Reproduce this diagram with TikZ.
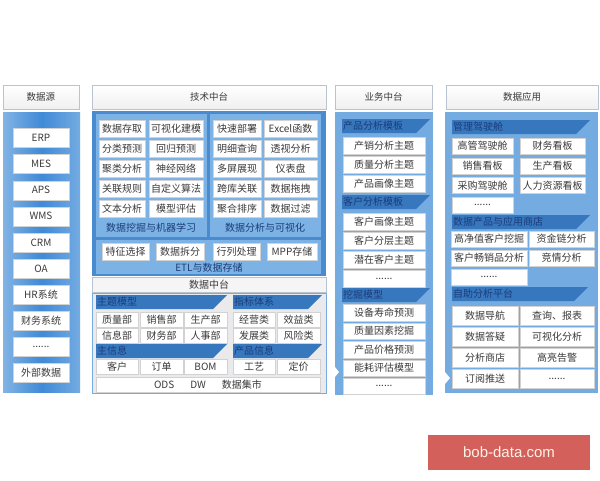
\documentclass[tikz,border=0pt]{standalone}
\usepackage{fontspec}
\setmainfont{Noto Sans CJK SC}
\newfontfamily\wmfont{Liberation Sans}
\definecolor{hdrline}{HTML}{B9C4D3}
\definecolor{colblue}{HTML}{3F8AD7}
\definecolor{lightblue}{HTML}{74ABE1}
\definecolor{panelblue}{HTML}{7DB3E4}
\definecolor{techblue}{HTML}{4A8BD0}
\definecolor{barblue}{HTML}{3777BE}
\definecolor{navy}{HTML}{1B3C78}
\definecolor{txt}{HTML}{3A3A3A}
\definecolor{wmred}{HTML}{D4605C}
\tikzset{
  hdr/.style={draw=hdrline,top color=white,bottom color=gray!12,text=txt,minimum height=24,inner sep=0,font=\fontsize{9.5}{10}\selectfont},
  cell/.style={draw=gray!35,fill=white,text=txt,inner sep=0,font=\fontsize{10}{11}\selectfont},
  bartext/.style={text=navy,inner sep=1pt,font=\fontsize{10}{11}\selectfont},
  lbl/.style={text=navy,inner sep=0,font=\fontsize{10}{11}\selectfont}
}
\newcommand\sixdots{......}
% section bar with slanted right end
\newcommand\tabbar[5]{%
  \fill[barblue] (#2,#3) -- (#4,#3) -- ({#4-14},{#3+14}) -- (#2,{#3+14}) -- cycle;
  \node[bartext,anchor=west] (#1) at (#2,{#3+7}) {#5};}
\begin{document}
\begin{tikzpicture}[x=1pt,y=-1pt]
\useasboundingbox[fill=white] (0,0) rectangle (600,480);

% headers
\node[hdr,minimum width=76] (hsrc) at (41,97) {数据源};
\node[hdr,minimum width=234] (htech) at (209,97) {技术中台};
\node[hdr,minimum width=97] (hbiz) at (383.5,97) {业务中台};
\node[hdr,minimum width=152] (happ) at (522,97) {数据应用};

% data source
\shade[left color=lightblue!90,right color=lightblue,middle color=colblue] (3,112) rectangle (80,392);
\foreach \t [count=\i] in {ERP,MES,APS,WMS,CRM,OA,HR系统,财务系统,\sixdots,外部数据}
  \node[cell,minimum width=56,minimum height=19] (src\i) at (41,{138+26.1*(\i-1)}) {\t};

% technology
\fill[techblue] (92,111) rectangle (326,276);
\fill[panelblue] (96,114) rectangle (207,237);
\fill[panelblue] (210,114) rectangle (321,237);
\fill[panelblue] (96,240) rectangle (321,274);
\foreach \a/\b [count=\i] in {数据存取/可视化建模,分类预测/回归预测,聚类分析/神经网络,关联规则/自定义算法,文本分析/模型评估} {
  \node[cell,minimum width=46,minimum height=17] (ml\i a) at (122,{128.5+20*(\i-1)}) {\a};
  \node[cell,minimum width=54,minimum height=17] (ml\i b) at (176,{128.5+20*(\i-1)}) {\b};}
\foreach \a/\b [count=\i] in {快速部署/Excel函数,明细查询/透视分析,多屏展现/仪表盘,跨库关联/数据拖拽,聚合排序/数据过滤} {
  \node[cell,minimum width=48,minimum height=17] (va\i a) at (237,{128.5+20*(\i-1)}) {\a};
  \node[cell,minimum width=53,minimum height=17] (va\i b) at (290.5,{128.5+20*(\i-1)}) {\b};}
\node[lbl] (mllbl) at (151,228) {数据挖掘与机器学习};
\node[lbl] (valbl) at (265,228) {数据分析与可视化};
\foreach \t/\x/\w [count=\i] in {特征选择/125.5/47,数据拆分/180/48,行列处理/236.5/47,MPP存储/292/50}
  \node[cell,minimum width=\w,minimum height=17] (etl\i) at (\x,251.5) {\t};
\node[lbl] (etllbl) at (209,268) {ETL与数据存储};

% data middle platform
\node[draw=hdrline,fill=gray!8,text=txt,minimum width=234,minimum height=15,inner sep=0,font=\fontsize{10}{11}\selectfont] (dmid) at (209,284.5) {数据中台};
\fill[blue!8!gray!15,draw=lightblue] (92,293) rectangle (326,393);
\tabbar{ztmx}{96}{295}{227}{主题模型}
\tabbar{zbtx}{233}{295}{322}{指标体系}
\tabbar{zxx}{96}{344}{227}{主信息}
\tabbar{cpxx}{233}{344}{322}{产品信息}
\foreach \t/\x/\y/\w [count=\i] in {质量部/117/319.5/42,销售部/161.5/319.5/43,生产部/205.5/319.5/43,
    信息部/117/335.5/42,财务部/161.5/335.5/43,人事部/205.5/335.5/43,
    经营类/254/319.5/42,效益类/298.5/319.5/43,发展类/254/335.5/42,风险类/298.5/335.5/43,
    客户/117/366.5/42,订单/161.5/366.5/43,BOM/205.5/366.5/43,工艺/254/366.5/42,定价/298.5/366.5/43}
  \node[cell,minimum width=\w,minimum height=15] (dm\i) at (\x,\y) {\t};
\node[cell,minimum width=224,minimum height=15] (ods) at (208,384.5) {ODS\hspace{16pt}DW\hspace{16pt}数据集市};

% business middle platform
\fill[lightblue] (335,112) rectangle (433,395);
\fill[white] (335,367) -- (339,372) -- (335,377) -- cycle;
\tabbar{cpfx}{342}{119}{430}{产品分析模板}
\tabbar{khfx}{342}{195}{430}{客户分析模板}
\tabbar{wjmx}{342}{288}{430}{挖掘模型}
\foreach \t/\y [count=\i] in {产销分析主题/145.5,质量分析主题/164.5,产品画像主题/183.5,
    客户画像主题/221.5,客户分层主题/240.5,潜在客户主题/259.5,\sixdots/278.5,
    设备寿命预测/312.5,质量因素挖掘/331,产品价格预测/349.5,能耗评估模型/368,\sixdots/386}
  \node[cell,minimum width=82,minimum height=16.5] (biz\i) at (384,\y) {\t};

% data application
\fill[lightblue] (445,112) rectangle (598,393);
\fill[white] (445,372) -- (450,378) -- (445,384) -- cycle;
\tabbar{gljsc}{452}{120}{590}{管理驾驶舱}
\tabbar{sjcp}{452}{215}{590}{数据产品与应用商店}
\tabbar{zzfx}{452}{287}{588}{自助分析平台}
\foreach \a/\b [count=\i] in {高管驾驶舱/财务看板,销售看板/生产看板,采购驾驶舱/人力资源看板} {
  \node[cell,minimum width=61,minimum height=16] (gl\i a) at (482.5,{146+19.7*(\i-1)}) {\a};
  \node[cell,minimum width=65,minimum height=16] (gl\i b) at (552.5,{146+19.7*(\i-1)}) {\b};}
\node[cell,minimum width=61,minimum height=16] (gl4a) at (482.5,205) {\sixdots};
\foreach \a/\b [count=\i] in {高净值客户挖掘/资金链分析,客户畅销品分析/竞情分析} {
  \node[cell,minimum width=76,minimum height=16] (sd\i a) at (489,{239+19*(\i-1)}) {\a};
  \node[cell,minimum width=65,minimum height=16] (sd\i b) at (561.5,{239+19*(\i-1)}) {\b};}
\node[cell,minimum width=76,minimum height=16] (sd3a) at (489,277) {\sixdots};
\foreach \a/\b [count=\i] in {数据导航/查询、报表,数据答疑/可视化分析,分析商店/高亮告警,订阅推送/\sixdots} {
  \node[cell,minimum width=66,minimum height=19] (zz\i a) at (485,{315.5+21.2*(\i-1)}) {\a};
  \node[cell,minimum width=74,minimum height=19] (zz\i b) at (557,{315.5+21.2*(\i-1)}) {\b};}

% watermark
\node[fill=wmred,text=orange!10,minimum width=162,minimum height=35,inner sep=0,font=\wmfont\fontsize{15}{16}\selectfont] (wm) at (509,452.5) {bob-data.com};
\end{tikzpicture}
\end{document}
